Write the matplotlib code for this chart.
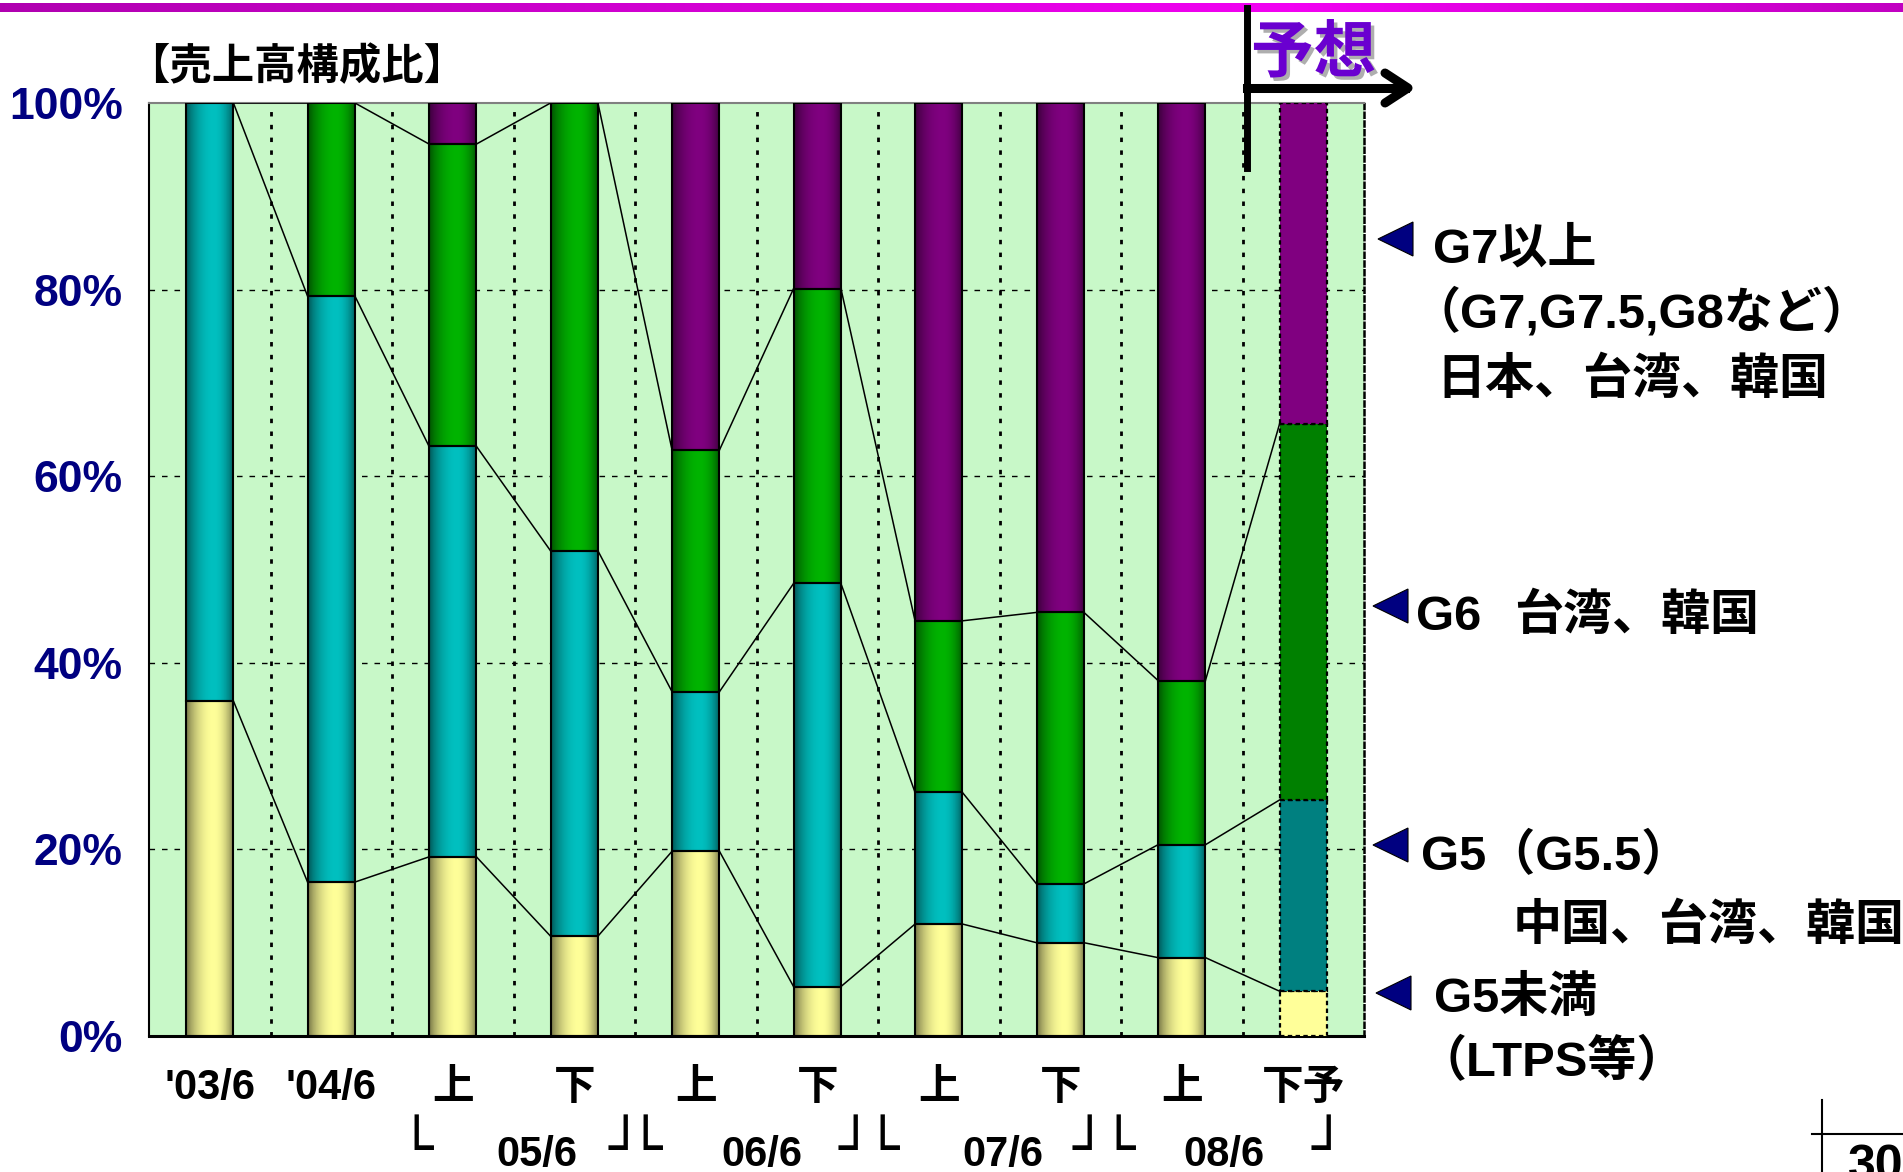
import numpy as np
import matplotlib.pyplot as plt
import matplotlib.patheffects as pe
import matplotlib.transforms as mtrans
from matplotlib.lines import Line2D
from matplotlib.patches import Polygon
from matplotlib.colors import to_rgb

W, H = 1903, 1172
JP = ['Liberation Sans', 'Noto Sans CJK JP']

# ── data (share of sales, %) ────────────────────────────────────────────────
categories = ["'03/6", "'04/6", "上", "下", "上", "下", "上", "下", "上", "下予"]
under_g5 = [35.9, 16.5, 19.2, 10.7, 19.8, 5.3, 12.0, 10.0, 8.4, 4.8]
g5       = [64.1, 62.8, 44.0, 41.3, 17.1, 43.2, 14.1, 6.3, 12.1, 20.5]
g6       = [0.0, 20.7, 32.4, 48.0, 25.9, 31.6, 18.4, 29.1, 17.6, 40.3]
g7_up    = [0.0, 0.0, 4.4, 0.0, 37.2, 19.9, 55.5, 54.6, 61.9, 34.4]
is_forecast = [False] * 9 + [True]
half_labels = ["05/6", "06/6", "07/6", "08/6"]
y_ticks = [0, 20, 40, 60, 80, 100]

shade_colors = ['#FFFF99', '#00C0C0', '#00B400', '#800080']
flat_colors = ['#FFFF99', '#008080', '#008000', '#800080']
bar_w = 0.39


def fx(px):
    return px / W


def fy(py):
    return 1 - py / H


def cylinder(c, n=80):
    t = np.linspace(0, 1, n)
    p = 0.58
    u = np.where(t < p, t / p * 0.5, 0.5 + (t - p) / (1 - p) * 0.5)
    f = 0.42 + 0.58 * np.sin(np.pi * u) ** 0.7
    return np.array(to_rgb(c))[None, None, :] * f[None, :, None]


fig = plt.figure(figsize=(W / 100, H / 100), dpi=100)

# magenta band at the top of the slide
band = fig.add_axes([0, fy(12), 1, 9 / H])
tb = np.linspace(0, 1, 400)
stops = np.array([[0.69, 0, 0.69], [0.95, 0, 0.95], [0.76, 0, 0.76]])
grad = np.stack([np.interp(tb, [0, 0.68, 1], stops[:, k]) for k in range(3)], axis=-1)
band.imshow(grad[None, :, :], aspect='auto', extent=[0, 1, 0, 1])
band.axis('off')

ax = fig.add_axes([fx(149), fy(1036), (1364 - 149) / W, (1036 - 103) / H])
ax.set_facecolor('#C8F8C8')
ax.set_xlim(-0.5, len(categories) - 0.5)
ax.set_ylim(0, 100)
ax.set_autoscale_on(False)

x = np.arange(len(categories))
segments = [under_g5, g5, g6, g7_up]
bottoms = np.zeros(len(categories))
tops = []
for k, seg in enumerate(segments):
    seg = np.array(seg)
    for i in x:
        if seg[i] <= 0:
            continue
        if is_forecast[i]:
            ax.bar(x[i], seg[i], bar_w, bottom=bottoms[i], color=flat_colors[k],
                   edgecolor='black', linewidth=1.6, linestyle=(0, (2, 1.5)), zorder=3)
        else:
            ax.imshow(cylinder(shade_colors[k]), aspect='auto', interpolation='bilinear',
                      extent=[x[i] - bar_w / 2, x[i] + bar_w / 2, bottoms[i], bottoms[i] + seg[i]],
                      zorder=2)
            ax.bar(x[i], seg[i], bar_w, bottom=bottoms[i], facecolor='none',
                   edgecolor='black', linewidth=1.5, zorder=3)
    bottoms = bottoms + seg
    tops.append(bottoms.copy())

# series lines between neighbouring bars
for level in tops[:3]:
    for i in x[:-1]:
        ax.plot([x[i] + bar_w / 2, x[i + 1] - bar_w / 2], [level[i], level[i + 1]],
                color='black', lw=1.1, zorder=4)

# grid
for yv in y_ticks[1:-1]:
    ax.axhline(yv, color='black', lw=1.0, ls=(0, (4, 5)), zorder=1)
for xv in x[:-1] + 0.5:
    ax.axvline(xv, color='black', lw=2.0, ls=(0, (1.6, 3)), zorder=1)

for s in ['left', 'bottom']:
    ax.spines[s].set_color('black')
ax.spines['left'].set_linewidth(1.5)
ax.spines['bottom'].set_linewidth(2.2)
ax.spines['top'].set_color('#808080')
ax.spines['top'].set_linewidth(1.5)
ax.spines['right'].set_linestyle((0, (2, 1.5)))
ax.spines['right'].set_linewidth(1.8)

ax.set_yticks(y_ticks)
ax.set_yticklabels([f"{v}%" for v in y_ticks], fontsize=32, fontweight='bold',
                   color='#000080', family='Liberation Sans')
ax.tick_params(axis='y', length=0, pad=19)
ax.set_xticks(x)
ax.set_xticklabels([])
ax.tick_params(axis='x', length=0)

tr = mtrans.blended_transform_factory(ax.transData, fig.transFigure)
for i, lab in enumerate(categories):
    ax.text(x[i], fy(1099), lab, transform=tr, ha='center', va='baseline',
            fontsize=30, fontweight='bold', family=JP)

left_br = [1.697, 3.582, 5.533, 7.475]
right_br = [3.418, 5.311, 7.237, 9.204]
label_x = [2.693, 4.545, 6.529, 8.348]
for lb, rb, lx, lab in zip(left_br, right_br, label_x, half_labels):
    ax.text(lb, fy(1167), "└", transform=tr, ha='center', va='baseline', fontsize=40,
            family='DejaVu Sans')
    ax.text(rb, fy(1167), "┘", transform=tr, ha='center', va='baseline', fontsize=40,
            family='DejaVu Sans')
    ax.text(lx, fy(1166), lab, transform=tr, ha='center', va='baseline',
            fontsize=30, fontweight='bold', family=JP)

fig.text(fx(127), fy(67), "【売上高構成比】", fontsize=30.5, fontweight='bold',
         family=JP, va='center', ha='left')

# forecast marker
fig.add_artist(Line2D([fx(1247), fx(1247)], [fy(8), fy(168)], color='black', lw=5,
                      transform=fig.transFigure))
fig.add_artist(Line2D([fx(1247), fx(1405)], [fy(88), fy(88)], color='black', lw=6.5,
                      transform=fig.transFigure))
fig.add_artist(Line2D([fx(1385), fx(1408), fx(1385)], [fy(73), fy(88), fy(103)], color='black',
                      lw=6.5, solid_capstyle='round', solid_joinstyle='round',
                      transform=fig.transFigure))
fig.text(fx(1251), fy(72), "予想", fontsize=45, fontweight='bold', color='#6A00D0',
         family=JP, va='baseline', ha='left',
         path_effects=[pe.SimplePatchShadow(offset=(2.5, -2.5), shadow_rgbFace='#9A9A9A', alpha=0.8),
                       pe.Normal()])

# right-hand annotations
def tri(tip_x, cy):
    fig.add_artist(Polygon([(fx(tip_x), fy(cy)), (fx(tip_x + 35), fy(cy - 17)),
                            (fx(tip_x + 35), fy(cy + 17))], closed=True,
                           facecolor='#000080', edgecolor='black', lw=0.8,
                           transform=fig.transFigure))


def note(px, py, s):
    fig.text(fx(px), fy(py), s, fontsize=35.3, fontweight='bold', family=JP,
             va='baseline', ha='left')


tri(1378, 239)
note(1433, 263, "G7以上")
note(1411, 328, "（G7,G7.5,G8など）")
note(1436, 394, "日本、台湾、韓国")
tri(1373, 606)
note(1416, 630, "G6")
note(1514, 630, "台湾、韓国")
tri(1373, 845)
note(1421, 870, "G5（G5.5）")
note(1513, 940, "中国、台湾、韓国")
tri(1376, 993)
note(1434, 1012, "G5未満")
note(1418, 1076, "（LTPS等）")

# page number
fig.add_artist(Line2D([fx(1822), fx(1822)], [fy(1100), fy(1172)], color='black', lw=1.5,
                      transform=fig.transFigure))
fig.add_artist(Line2D([fx(1812), fx(1903)], [fy(1134), fy(1134)], color='black', lw=1.5,
                      transform=fig.transFigure))
fig.text(fx(1848), fy(1180), "30", fontsize=36, fontweight='bold', family='Liberation Sans',
         va='baseline', ha='left')

fig.savefig('out.png', dpi=100)
